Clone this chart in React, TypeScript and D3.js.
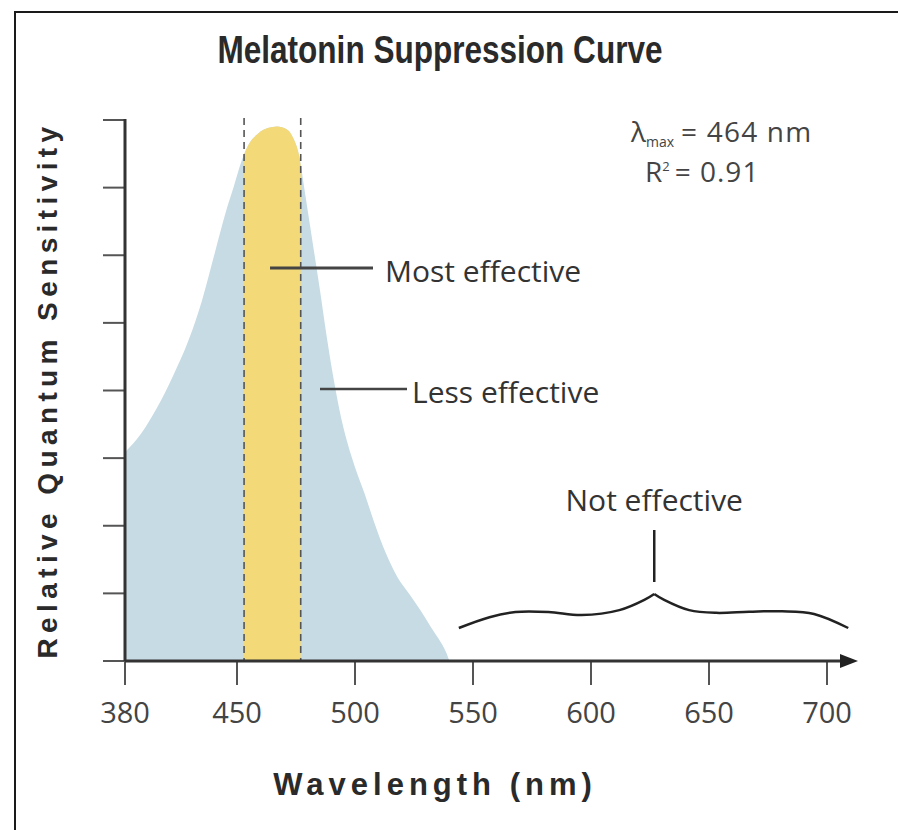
import * as d3 from 'd3'

// melatonin suppression action spectrum (relative units, 1 = top tick)
const wavelengths = [
  380, 390, 400, 410, 420, 428, 436, 443, 448, 452, 455, 459, 463, 467, 471, 474, 476, 477,
  479, 482, 485, 488, 491, 494, 497, 500, 504, 508, 513, 518, 523, 528, 532, 535, 537, 539, 540,
]
const sensitivity = [
  0.386, 0.42, 0.468, 0.527, 0.595, 0.665, 0.753, 0.83, 0.877, 0.925, 0.955, 0.975, 0.985, 0.988,
  0.983, 0.965, 0.94, 0.917, 0.86, 0.775, 0.69, 0.6, 0.52, 0.452, 0.4, 0.358, 0.31, 0.258, 0.2,
  0.155, 0.124, 0.092, 0.064, 0.044, 0.03, 0.012, 0,
]

// most effective band
const bandStart = 453
const bandEnd = 477

const xTicks = [380, 450, 500, 550, 600, 650, 700]
const yTicks = [0, 0.125, 0.25, 0.375, 0.5, 0.625, 0.75, 0.875, 1]

// curly brace over the "not effective" range, two halves meeting at the cusp
const braceLeftNm = [544, 557, 568, 582, 596, 612, 622.6, 626.8]
const braceLeftVal = [0.061, 0.081, 0.0906, 0.0906, 0.085, 0.094, 0.113, 0.124]
const braceRightNm = [626.8, 631, 641.6, 653, 667, 681, 694.5, 709]
const braceRightVal = [0.124, 0.113, 0.094, 0.089, 0.091, 0.092, 0.087, 0.061]

const W = 898
const H = 830
const AXIS_X = 125
const AXIS_Y = 661
const TOP_Y = 120

const BLUE = '#c6dbe4'
const YELLOW = '#f3d977'
const INK = '#333'
const SANS = "'Open Sans', 'DejaVu Sans', sans-serif"
const BOLD = "'Liberation Sans', Arial, sans-serif"

export default function App() {
  // the axis is broken: 380-450 is squeezed
  const x = d3.scaleLinear().domain([380, 450, 700]).range([AXIS_X, 237, 827])
  const y = d3.scaleLinear().domain([0, 1]).range([AXIS_Y, TOP_Y])

  const area = d3
    .area<number>()
    .x((_, i) => x(wavelengths[i]))
    .y0(y(0))
    .y1((d) => y(d))
    .curve(d3.curveMonotoneX)
  const areaPath = area(sensitivity) ?? ''

  const braceLine = (nm: number[]) =>
    d3
      .line<number>()
      .x((_, i) => x(nm[i]))
      .y((d) => y(d))
      .curve(d3.curveCatmullRom)
  const braceLeft = braceLine(braceLeftNm)(braceLeftVal) ?? ''
  const braceRight = braceLine(braceRightNm)(braceRightVal) ?? ''
  const cuspX = x(braceLeftNm[braceLeftNm.length - 1])

  const x0 = x(bandStart)
  const x1 = x(bandEnd)

  return (
    <svg
      width={W}
      height={H}
      viewBox={`0 0 ${W} ${H}`}
      style={{ position: 'absolute', left: 0, top: 0, background: '#fff' }}
    >
      <defs>
        <clipPath id="band">
          <rect x={x0} y={0} width={x1 - x0} height={AXIS_Y} />
        </clipPath>
      </defs>

      {/* frame */}
      <path d={`M15,${H} V12 H${W}`} fill="none" stroke="#1a1a1a" strokeWidth={2} />

      {/* condensed bold title */}
      <text
        transform="translate(440,63) scale(0.83,1)"
        textAnchor="middle"
        fontFamily={BOLD}
        fontWeight="bold"
        fontSize={38}
        fill="#2a2a2a"
      >
        Melatonin Suppression Curve
      </text>

      <path d={areaPath} fill={BLUE} />
      <path d={areaPath} fill={YELLOW} clipPath="url(#band)" />

      {[x0, x1].map((xx, i) => (
        <line
          key={i}
          x1={xx}
          x2={xx}
          y1={TOP_Y - 2}
          y2={AXIS_Y}
          stroke="#555"
          strokeWidth={1.6}
          strokeDasharray="7 5"
        />
      ))}

      {/* y axis */}
      {yTicks.map((t) => (
        <line key={t} x1={103} x2={AXIS_X} y1={y(t)} y2={y(t)} stroke="#555" strokeWidth={2} />
      ))}
      <line x1={AXIS_X} x2={AXIS_X} y1={TOP_Y - 1} y2={AXIS_Y} stroke={INK} strokeWidth={3} />

      {/* x axis */}
      {xTicks.map((t) => (
        <g key={t}>
          <line x1={x(t)} x2={x(t)} y1={AXIS_Y} y2={AXIS_Y + 24} stroke="#555" strokeWidth={2} />
          <text
            x={x(t)}
            y={723}
            textAnchor="middle"
            fontFamily={SANS}
            fontSize={29}
            fill="#444"
          >
            {t}
          </text>
        </g>
      ))}
      <line x1={AXIS_X} x2={845} y1={AXIS_Y} y2={AXIS_Y} stroke={INK} strokeWidth={3} />
      <polygon points={`840,${AXIS_Y - 7} 858,${AXIS_Y} 840,${AXIS_Y + 7}`} fill="#222" />

      <text
        transform="translate(57,390) rotate(-90)"
        textAnchor="middle"
        fontFamily={BOLD}
        fontWeight="bold"
        fontSize={28}
        letterSpacing={5.4}
        fill="#2a2a2a"
      >
        Relative Quantum Sensitivity
      </text>
      <text
        x={435}
        y={795}
        textAnchor="middle"
        fontFamily={BOLD}
        fontWeight="bold"
        fontSize={31}
        letterSpacing={5}
        fill="#2a2a2a"
      >
        Wavelength (nm)
      </text>

      {/* annotations */}
      <line x1={x(464)} x2={373} y1={268} y2={268} stroke="#444" strokeWidth={3} />
      <text x={385} y={282} fontFamily={SANS} fontSize={30} fill={INK}>
        Most effective
      </text>
      <line x1={320} x2={407} y1={389} y2={389} stroke="#444" strokeWidth={2.5} />
      <text x={412} y={403} fontFamily={SANS} fontSize={30} fill={INK}>
        Less effective
      </text>

      <path d={braceLeft} fill="none" stroke="#222" strokeWidth={2.5} />
      <path d={braceRight} fill="none" stroke="#222" strokeWidth={2.5} />
      <line x1={cuspX} x2={cuspX} y1={530} y2={582} stroke="#222" strokeWidth={2.5} />
      <text x={cuspX} y={511} textAnchor="middle" fontFamily={SANS} fontSize={30} fill={INK}>
        Not effective
      </text>

      <text x={631} y={142} fontFamily={SANS} fontSize={28} fill="#444">
        λ
        <tspan fontSize={14} dy={5}>
          max
        </tspan>
        <tspan dy={-5} dx={7} letterSpacing={1.2}>
          = 464 nm
        </tspan>
      </text>
      <text x={645} y={182} fontFamily={SANS} fontSize={28} fill="#444">
        R
        <tspan fontSize={13} dy={-11}>
          2
        </tspan>
        <tspan dy={11} dx={5} letterSpacing={1}>
          = 0.91
        </tspan>
      </text>
    </svg>
  )
}
